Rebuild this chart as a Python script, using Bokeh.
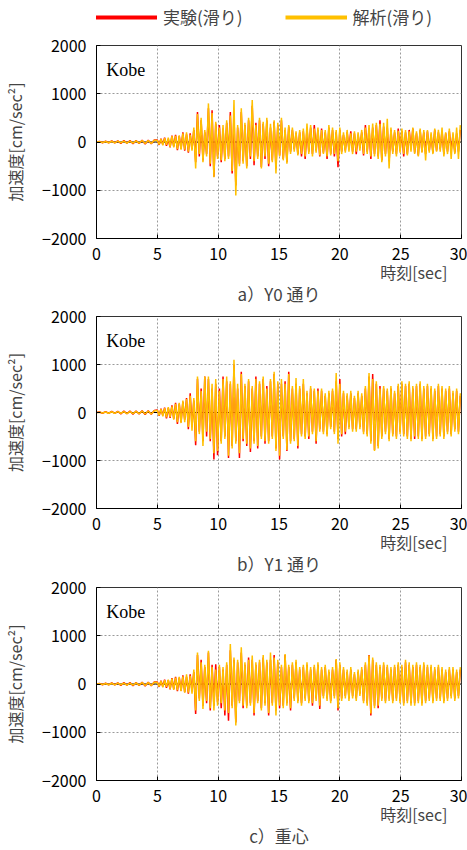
import numpy as np
from bokeh.plotting import figure
from bokeh.layouts import column
from bokeh.models import Legend, LegendItem, Label, Span, Title, FixedTicker, Range1d
from bokeh.embed import file_html
from bokeh.resources import INLINE

FONT = "Noto Sans CJK JP"
RED = "#FF0000"
ORANGE = "#FFC000"

X_TICKS = [0, 5, 10, 15, 20, 25, 30]
Y_TICKS = [-2000, -1000, 0, 1000, 2000]
LEGEND_LABELS = ["実験(滑り)", "解析(滑り)"]
CAPTIONS = ["a）Y0 通り", "b）Y1 通り", "c）重心"]
X_LABEL = "時刻[sec]"
Y_LABEL = "加速度[cm/sec²]"
NOTE = "Kobe"

# quiet part: t = 0 .. 4.75 s, step 0.25 s
QUIET_EXP = [0, 10, -15, 20, -20, 25, -20, 25, -30, 30, -25, 30, -35, 30, -30, 35, -40, 35, -35, 40]
QUIET_ANA = [0, 5, -10, 10, -15, 15, -20, 20, -15, 20, -25, 20, -25, 25, -25, 30, -30, 30, -30, 35]

# strong part: t = 5.0 s onward, step 0.15 s (cm/sec^2)
A_EXP = [40, -60, 70, -50, 90, -80, 60, -110, 130, -90,
         150, -170, 120, -140, 200, -180, 160, -220, 180, -150,
         250, -420, 620, -300, 450, -380, 200, -250, 700, -500,
         660, -720, 380, -300, 350, -420, 280, -350, 400, -300,
         620, -650, 560, -900, 300, -450, 620, -400, 350, -500,
         450, -350, 750, -480, 400, -300, 450, -520, 380, -350,
         450, -500, 300, -380, 420, -550, 350, -280, 450, -350,
         250, -420, 320, -200, 250, -150, 180, -250, 200, -300,
         220, -350, 280, -200, 300, -250, 350, -180, 250, -300,
         280, -220, 200, -350, 300, -250, 250, -300, 200, -520,
         250, -200, 150, -180, 200, -150, 220, -200, 180, -250,
         150, -120, 200, -280, 350, -200, 280, -350, 300, -250,
         350, -300, 450, -380, 320, -250, 300, -400, 250, -200,
         200, -250, 280, -180, 220, -300, 200, -250, 250, -150,
         280, -220, 180, -280, 250, -200, 200, -250, 220, -180,
         150, -220, 250, -180, 200, -150, 230, -250, 180, -200,
         220, -180, 150, -220, 180, -200, 250]
A_ANA = [30, -50, 60, -70, 80, -60, 90, -100, 120, -110,
         130, -150, 140, -160, 180, -160, 200, -200, 150, -180,
         300, -550, 580, -250, 500, -420, 250, -300, 800, -450,
         600, -730, 420, -350, 300, -380, 350, -400, 450, -350,
         550, -600, 870, -1110, 350, -500, 700, -450, 400, -550,
         500, -300, 870, -400, 350, -350, 500, -550, 420, -300,
         500, -450, 380, -420, 450, -650, 400, -300, 500, -380,
         300, -450, 350, -250, 300, -200, 220, -280, 250, -250,
         280, -300, 380, -250, 350, -300, 280, -220, 300, -280,
         250, -250, 250, -300, 350, -280, 300, -250, 250, -400,
         300, -250, 200, -220, 250, -200, 180, -250, 220, -200,
         200, -180, 250, -250, 300, -250, 350, -300, 380, -300,
         400, -350, 380, -420, 400, -300, 480, -550, 300, -250,
         250, -300, 230, -220, 280, -250, 250, -280, 220, -200,
         300, -250, 220, -300, 280, -220, 250, -380, 250, -220,
         200, -250, 280, -200, 250, -200, 300, -300, 200, -250,
         280, -350, 200, -250, 300, -350, 350]
B_EXP = [50, -70, 80, -60, 100, -120, 90, -110, 150, -130,
         200, -240, 180, -200, 220, -150, 300, -350, 400, -300,
         250, -680, 700, -400, 500, -600, 750, -500, 700, -600,
         500, -980, 600, -890, 500, -600, 750, -500, 650, -950,
         600, -700, 1000, -600, 500, -950, 850, -600, 550, -700,
         650, -820, 500, -600, 750, -750, 600, -500, 700, -650,
         550, -600, 650, -500, 800, -750, 600, -980, 600, -500,
         650, -800, 850, -600, 500, -550, 600, -750, 500, -450,
         600, -500, 400, -550, 500, -400, 450, -650, 500, -350,
         450, -400, 350, -450, 400, -300, 450, -400, 650, -550,
         700, -500, 400, -450, 350, -300, 400, -350, 300, -350,
         400, -300, 350, -400, 500, -450, 750, -600, 800, -780,
         600, -700, 550, -500, 500, -400, 450, -550, 500, -450,
         400, -500, 550, -400, 600, -450, 550, -500, 600, -550,
         500, -550, 550, -500, 600, -550, 500, -500, 550, -450,
         500, -550, 450, -500, 550, -450, 500, -500, 450, -400,
         500, -450, 400, -350, 450, -400, 350]
B_ANA = [40, -60, 70, -80, 90, -100, 110, -90, 130, -150,
         180, -200, 200, -220, 250, -200, 280, -300, 350, -380,
         300, -600, 750, -450, 450, -700, 750, -400, 750, -550,
         600, -850, 700, -800, 450, -650, 700, -550, 750, -900,
         650, -750, 1100, -650, 600, -850, 800, -550, 600, -650,
         700, -750, 550, -650, 700, -700, 650, -550, 750, -600,
         500, -650, 700, -550, 850, -800, 650, -900, 700, -550,
         600, -780, 800, -650, 550, -600, 720, -700, 550, -500,
         700, -550, 450, -500, 550, -450, 500, -600, 450, -400,
         500, -450, 400, -500, 450, -350, 500, -450, 820, -650,
         600, -450, 450, -400, 400, -350, 450, -400, 350, -400,
         450, -350, 400, -450, 550, -500, 820, -650, 700, -800,
         650, -750, 500, -550, 550, -450, 500, -600, 550, -500,
         450, -550, 600, -450, 650, -500, 600, -550, 650, -600,
         550, -500, 600, -550, 650, -600, 550, -550, 600, -500,
         550, -600, 500, -550, 600, -500, 550, -550, 500, -450,
         550, -500, 450, -400, 500, -450, 400]
C_EXP = [40, -60, 70, -50, 90, -80, 80, -110, 120, -100,
         150, -150, 130, -140, 180, -170, 150, -200, 200, -150,
         250, -620, 600, -300, 500, -450, 350, -400, 650, -550,
         400, -450, 410, -380, 350, -500, 300, -650, 400, -760,
         700, -450, 500, -800, 450, -350, 650, -500, 400, -450,
         550, -400, 500, -650, 400, -350, 450, -500, 550, -400,
         450, -650, 500, -400, 600, -550, 450, -500, 350, -450,
         600, -400, 350, -550, 400, -300, 450, -350, 300, -400,
         350, -300, 400, -350, 300, -450, 350, -300, 400, -520,
         300, -250, 350, -300, 250, -350, 300, -250, 500, -550,
         400, -300, 300, -250, 250, -300, 300, -250, 200, -300,
         250, -200, 300, -350, 400, -400, 600, -650, 500, -450,
         400, -500, 350, -300, 400, -350, 350, -300, 300, -350,
         350, -300, 400, -350, 350, -400, 450, -350, 400, -400,
         350, -400, 400, -350, 350, -400, 400, -350, 350, -300,
         350, -350, 300, -300, 350, -300, 300, -350, 250, -300,
         300, -250, 300, -300, 250, -250, 300]
C_ANA = [30, -50, 60, -70, 80, -60, 90, -100, 110, -120,
         130, -130, 150, -150, 160, -180, 200, -180, 170, -200,
         300, -550, 650, -350, 450, -520, 400, -350, 690, -500,
         350, -550, 300, -450, 400, -400, 350, -550, 450, -600,
         830, -500, 550, -860, 500, -400, 760, -450, 450, -500,
         500, -450, 590, -600, 450, -400, 500, -550, 600, -450,
         500, -600, 650, -450, 550, -650, 500, -450, 400, -500,
         620, -450, 400, -500, 450, -350, 500, -400, 350, -450,
         400, -350, 450, -400, 350, -400, 400, -350, 450, -450,
         350, -300, 400, -350, 300, -400, 350, -300, 520, -500,
         450, -350, 350, -300, 300, -350, 350, -300, 250, -350,
         300, -250, 350, -400, 450, -450, 590, -610, 550, -500,
         450, -450, 400, -350, 450, -400, 400, -350, 350, -400,
         400, -350, 450, -400, 400, -450, 500, -400, 450, -450,
         400, -450, 450, -400, 400, -450, 450, -400, 400, -350,
         400, -400, 350, -350, 400, -350, 350, -400, 300, -350,
         350, -300, 350, -350, 300, -300, 350]


def series(quiet, main):
    t = np.concatenate([0.25 * np.arange(len(quiet)), 5.0 + 0.15 * np.arange(len(main))])
    return t, np.array(list(quiet) + list(main), dtype=float)


def make_panel(exp, ana, caption, height, top, bottom):
    p = figure(width=467, height=height, x_range=Range1d(0, 30), y_range=Range1d(-2000, 2000),
               output_backend="svg", toolbar_location=None,
               min_border_left=96, min_border_right=6, min_border_top=top, min_border_bottom=bottom)
    p.background_fill_color = "white"
    p.outline_line_color = "#333333"
    p.outline_line_width = 1
    p.xaxis.ticker = FixedTicker(ticks=X_TICKS)
    p.yaxis.ticker = FixedTicker(ticks=Y_TICKS)
    for ax in (p.xaxis, p.yaxis):
        ax.major_label_text_font = FONT
        ax.major_label_text_font_size = "16px"
        ax.major_label_text_color = "black"
        ax.axis_line_color = "black"
        ax.major_tick_in = 4
        ax.major_tick_out = 0
        ax.minor_tick_in = 0
        ax.minor_tick_out = 0
        ax.major_tick_line_color = "black"
    p.xaxis.major_label_standoff = 9
    p.yaxis.major_label_standoff = 10
    p.yaxis.axis_label = Y_LABEL
    p.yaxis.axis_label_text_font = FONT
    p.yaxis.axis_label_text_font_size = "16px"
    p.yaxis.axis_label_text_font_style = "normal"
    p.yaxis.axis_label_standoff = 12
    for g in (p.xgrid, p.ygrid):
        g.grid_line_color = "#9a9a9a"
        g.grid_line_dash = "2 2"
        g.grid_line_width = 1
    p.xgrid.ticker = FixedTicker(ticks=X_TICKS)
    p.ygrid.ticker = FixedTicker(ticks=Y_TICKS)
    zero = Span(location=0, dimension="width", line_color="black", line_width=1, level="underlay")
    p.add_layout(zero)
    te, ve = exp
    ta, va = ana
    p.line(te, ve, line_color=RED, line_width=1.5)
    p.line(ta, va, line_color=ORANGE, line_width=1.5)
    p.add_layout(Label(x=0.8, y=1500, text=NOTE, text_font="Liberation Serif",
                       text_font_size="18px", text_baseline="middle", text_color="black"))
    # x-axis title (right aligned under the axis), then the panel caption
    p.add_layout(Title(text=X_LABEL, align="right", offset=14, text_font=FONT, text_font_size="16px",
                       text_font_style="normal", standoff=-9), "below")
    p.add_layout(Title(text=caption, align="center", text_font=FONT, text_font_size="17px",
                       text_font_style="normal", standoff=-1), "below")
    return p


# legend strip
leg = figure(width=467, height=32, x_range=Range1d(0, 1), y_range=Range1d(0, 1),
             output_backend="svg", toolbar_location=None, x_axis_location=None, y_axis_location=None,
             min_border_left=0, min_border_right=0, min_border_top=0, min_border_bottom=0)
leg.grid.visible = False
leg.outline_line_color = None
r1 = leg.line([np.nan], [np.nan], line_color=RED, line_width=4)
r2 = leg.line([np.nan], [np.nan], line_color=ORANGE, line_width=4)
legend = Legend(items=[LegendItem(label=LEGEND_LABELS[0], renderers=[r1]),
                       LegendItem(label=LEGEND_LABELS[1], renderers=[r2])],
                orientation="horizontal", location=(-1, 3), glyph_width=62, glyph_height=20,
                label_standoff=6, spacing=42, padding=0, margin=0, border_line_color=None,
                background_fill_alpha=0, label_text_font=FONT, label_text_font_size="17px")
leg.add_layout(legend, "center")

pa = make_panel(series(QUIET_EXP, A_EXP), series(QUIET_ANA, A_ANA), CAPTIONS[0], 273, 13, 40)
pb = make_panel(series(QUIET_EXP, B_EXP), series(QUIET_ANA, B_ANA), CAPTIONS[1], 270, 11, 40)
pc = make_panel(series(QUIET_EXP, C_EXP), series(QUIET_ANA, C_ANA), CAPTIONS[2], 275, 12, 70)

layout = column(leg, pa, pb, pc, spacing=0)
open("out.html", "w").write(file_html(layout, INLINE))
